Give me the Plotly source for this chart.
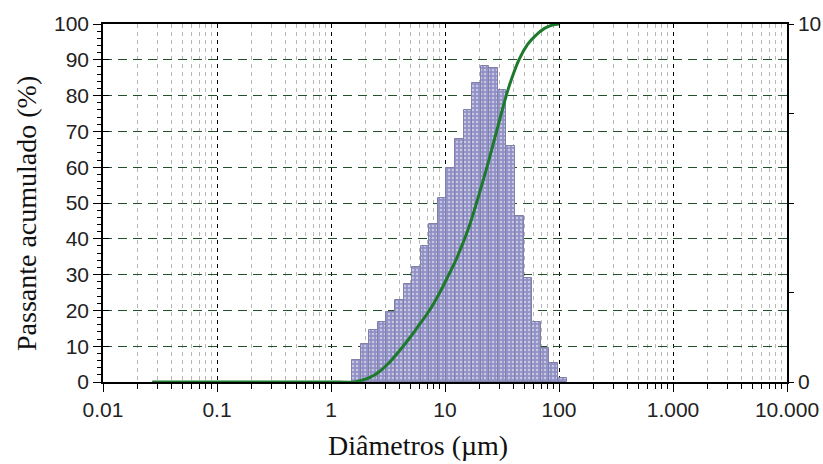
import plotly.graph_objects as go
import numpy as np

# ---- data ----
bin_edges = [1.53, 1.82, 2.16, 2.57, 3.06, 3.64, 4.33, 5.15, 6.12, 7.28, 8.66, 10.3, 12.2,
             14.6, 17.3, 20.6, 24.5, 29.1, 34.6, 41.2, 49.0, 58.3, 69.3, 82.4, 98.0, 116.5]
freq = [0.61, 1.06, 1.45, 1.68, 1.96, 2.29, 2.73, 3.22, 3.80, 4.41, 5.15, 5.97, 6.78,
        7.60, 8.34, 8.84, 8.76, 8.17, 6.59, 4.65, 2.91, 1.68, 0.96, 0.52, 0.10]

cum_d = [0.027, 0.3, 1.0, 1.6, 1.87, 2.2, 2.63, 3.22, 3.95, 4.9, 5.91, 7.2, 8.86, 10.5, 12.4,
         16.2, 19.9, 23.8, 27.8, 31.8, 36.4, 44.5, 53.0, 62.9, 74.0, 87.2, 100.0]
cum_pct = [0, 0, 0, 0, 0.5, 1.3, 2.8, 5.3, 8.6, 12.3, 15.9, 19.7, 24.6, 29.2, 33.9,
           43.2, 52.4, 61.0, 69.0, 76.0, 82.5, 90.0, 94.3, 96.9, 98.7, 99.7, 100]

x_tickvals = [0.01, 0.1, 1, 10, 100, 1000, 10000]
x_ticktext = ["0.01", "0.1", "1", "10", "100", "1.000", "10.000"]
y_left_ticks = list(range(0, 101, 10))
y_right_tickvals = [0, 2.5, 5, 7.5, 10]
y_right_ticktext = ["0", "", "", "", "10"]

x_title = "Diâmetros (µm)"
y_title = "Passante acumulado (%)"

# bar geometry from bin edges (bar width is in linear data units)
be = np.array(bin_edges)
centers = (be[:-1] + be[1:]) / 2
widths = be[1:] - be[:-1]

minor_x = [k * 10.0 ** e for e in range(-2, 4) for k in range(2, 10)]

fig = go.Figure()
fig.add_trace(go.Bar(
    x=centers, y=freq, width=widths, yaxis="y",
    marker=dict(color="#9898cc",
                line=dict(color="#8080a8", width=1),
                pattern=dict(shape=".", fgcolor="white", bgcolor="#9090c6",
                             size=4, solidity=0.3)),
    showlegend=False,
))
fig.add_trace(go.Scatter(
    x=cum_d, y=cum_pct, yaxis="y2", mode="lines",
    line=dict(color="#1d7a2c", width=3, shape="spline", smoothing=0.8),
    showlegend=False,
))

tickfont = dict(family="Liberation Sans, Arial, sans-serif", size=21, color="#222222")
titlefont = dict(family="Liberation Serif, Times New Roman, serif", size=28, color="#111111")

fig.update_layout(
    width=823, height=464,
    margin=dict(l=103, r=36, t=24, b=82),
    paper_bgcolor="white", plot_bgcolor="white",
    bargap=0,
    xaxis=dict(
        type="log", range=[-2, 4], automargin=False,
        tickvals=x_tickvals, ticktext=x_ticktext,
        tickfont=tickfont,
        showgrid=True, gridcolor="#000000", griddash="4px,4px", gridwidth=1,
        ticks="outside", ticklen=8, tickcolor="black",
        showline=True, linecolor="black", linewidth=1.5, mirror=True,
        minor=dict(tickvals=minor_x, ticks="outside", ticklen=5, tickcolor="black",
                   showgrid=True, gridcolor="#b8b8b8", griddash="4px,4px", gridwidth=1),
        zeroline=False,
    ),
    yaxis=dict(
        side="right", range=[0, 10], automargin=False,
        tickvals=y_right_tickvals, ticktext=y_right_ticktext,
        tickfont=tickfont,
        showgrid=False, zeroline=False,
        ticks="outside", ticklen=5, tickcolor="black",
        showline=True, linecolor="black", linewidth=1.5,
    ),
    yaxis2=dict(
        overlaying="y", side="left", range=[0, 100], automargin=False,
        tickvals=y_left_ticks, tickfont=tickfont,
        showgrid=True, gridcolor="#24502a", griddash="9px,6px", gridwidth=1,
        ticks="outside", ticklen=8, tickcolor="black",
        showline=True, linecolor="black", linewidth=1.5,
        minor=dict(dtick=2, ticks="outside", ticklen=4, tickcolor="black", showgrid=False),
        zeroline=False,
    ),
    yaxis3=dict(
        overlaying="y", side="left", range=[0, 100], automargin=False,
        tickvals=y_left_ticks, showticklabels=False,
        ticks="inside", ticklen=6, tickcolor="black",
        showgrid=False, zeroline=False, showline=False,
    ),
    annotations=[
        dict(text=x_title, xref="paper", yref="paper", x=0.4605, y=-0.178,
             xanchor="center", yanchor="middle", showarrow=False, font=titlefont),
        dict(text=y_title, xref="paper", yref="paper", x=-0.1126, y=0.472,
             xanchor="center", yanchor="middle", showarrow=False, font=titlefont,
             textangle=-90),
    ],
)
# invisible helper trace so that yaxis3 (inside tick marks) is drawn
fig.add_trace(go.Scatter(x=[1], y=[0], yaxis="y3", mode="markers",
                         marker=dict(opacity=0), showlegend=False, hoverinfo="skip"))

fig.write_html("out.html")
